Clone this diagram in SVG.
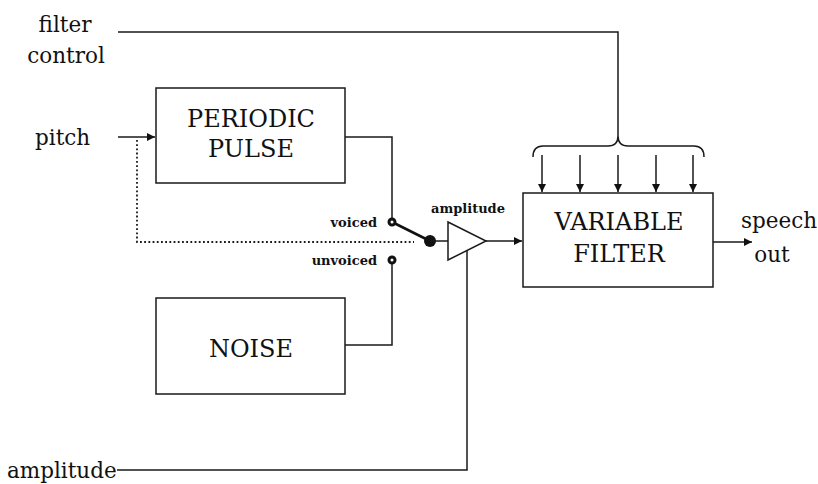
<svg xmlns="http://www.w3.org/2000/svg" width="818" height="484" viewBox="0 0 818 484">
  <style>
    .box { fill: #ffffff; stroke: #1a1a1a; stroke-width: 1.5; }
    .wire { fill: none; stroke: #1a1a1a; stroke-width: 1.5; }
    .dots { fill: none; stroke: #1a1a1a; stroke-width: 1.8; stroke-dasharray: 1.8 2.4; }
    .big { font-family: 'DejaVu Serif', 'Liberation Serif', serif; font-size: 24px; fill: #111; text-anchor: middle; }
    .lbl { font-family: 'DejaVu Serif', 'Liberation Serif', serif; font-size: 21.5px; fill: #111; }
    .small { font-family: 'DejaVu Serif', 'Liberation Serif', serif; font-size: 13px; font-weight: bold; fill: #111; }
    .pin { fill: #fff; stroke: #111; stroke-width: 3; }
  </style>
  <defs>
    <marker id="arrow" viewBox="0 0 10 10" refX="10" refY="5" markerWidth="8" markerHeight="8" markerUnits="userSpaceOnUse" orient="auto">
      <path d="M0,0 L10,5 L0,10 Z" fill="#111"/>
    </marker>
  </defs>

  <!-- input labels -->
  <g id="label-filter-control">
    <text class="lbl" x="65" y="32" text-anchor="middle">filter</text>
    <text class="lbl" x="66" y="63" text-anchor="middle">control</text>
  </g>
  <g id="label-pitch">
    <text class="lbl" x="35" y="145">pitch</text>
  </g>
  <g id="label-amplitude-in">
    <text class="lbl" x="7" y="478">amplitude</text>
  </g>

  <!-- source blocks -->
  <g id="periodic-pulse">
    <rect class="box" x="156" y="88" width="189" height="95"/>
    <text class="big" x="251" y="127">PERIODIC</text>
    <text class="big" x="251" y="157">PULSE</text>
  </g>
  <g id="noise">
    <rect class="box" x="156" y="298" width="189" height="96"/>
    <text class="big" x="251" y="357">NOISE</text>
  </g>

  <!-- voiced / unvoiced switch -->
  <g id="switch">
    <text class="small" x="377" y="227" text-anchor="end">voiced</text>
    <text class="small" x="377" y="265" text-anchor="end">unvoiced</text>
    <line x1="392" y1="222" x2="430" y2="241" stroke="#111" stroke-width="2.6"/>
    <circle class="pin" cx="392" cy="222" r="3"/>
    <circle class="pin" cx="392" cy="260" r="3"/>
    <circle cx="430" cy="241" r="6" fill="#111"/>
  </g>

  <!-- amplitude stage -->
  <g id="amplifier">
    <polygon points="448,222 486,241 448,260" fill="#fff" stroke="#1a1a1a" stroke-width="1.5"/>
    <text class="small" x="468" y="213" text-anchor="middle">amplitude</text>
  </g>

  <!-- filter block -->
  <g id="variable-filter">
    <rect class="box" x="523" y="193" width="190" height="94"/>
    <text class="big" x="619" y="230">VARIABLE</text>
    <text class="big" x="619" y="262">FILTER</text>
  </g>
  <g id="label-speech-out">
    <text class="lbl" x="779" y="228" text-anchor="middle">speech</text>
    <text class="lbl" x="772" y="262" text-anchor="middle">out</text>
  </g>

  <!-- connectors -->
  <g id="connectors">
    <!-- filter control feed and brace -->
    <polyline class="wire" points="118,32 618,32 618,136"/>
    <path class="wire" d="M533,157 Q533,146 543,146 L608,146 Q618,146 618,136 Q618,146 628,146 L694,146 Q704,146 704,157"/>
    <line class="wire" x1="542" y1="155" x2="542" y2="192" marker-end="url(#arrow)"/>
    <line class="wire" x1="580" y1="155" x2="580" y2="192" marker-end="url(#arrow)"/>
    <line class="wire" x1="618" y1="155" x2="618" y2="192" marker-end="url(#arrow)"/>
    <line class="wire" x1="656" y1="155" x2="656" y2="192" marker-end="url(#arrow)"/>
    <line class="wire" x1="693" y1="155" x2="693" y2="192" marker-end="url(#arrow)"/>

    <!-- pitch -->
    <line class="wire" x1="118" y1="137" x2="155" y2="137" marker-end="url(#arrow)"/>
    <polyline class="dots" points="137,140 137,242 414,242"/>

    <!-- source outputs to switch -->
    <polyline class="wire" points="345,137 392,137 392,218"/>
    <polyline class="wire" points="345,345 392,345 392,264"/>

    <!-- switch to amplifier, amplifier to filter -->
    <line class="wire" x1="430" y1="241" x2="448" y2="241"/>
    <line class="wire" x1="486" y1="241" x2="522" y2="241" marker-end="url(#arrow)"/>

    <!-- amplitude control -->
    <polyline class="wire" points="117,470 467,470 467,251"/>

    <!-- output -->
    <line class="wire" x1="713" y1="242" x2="752" y2="242" marker-end="url(#arrow)"/>
  </g>
</svg>
